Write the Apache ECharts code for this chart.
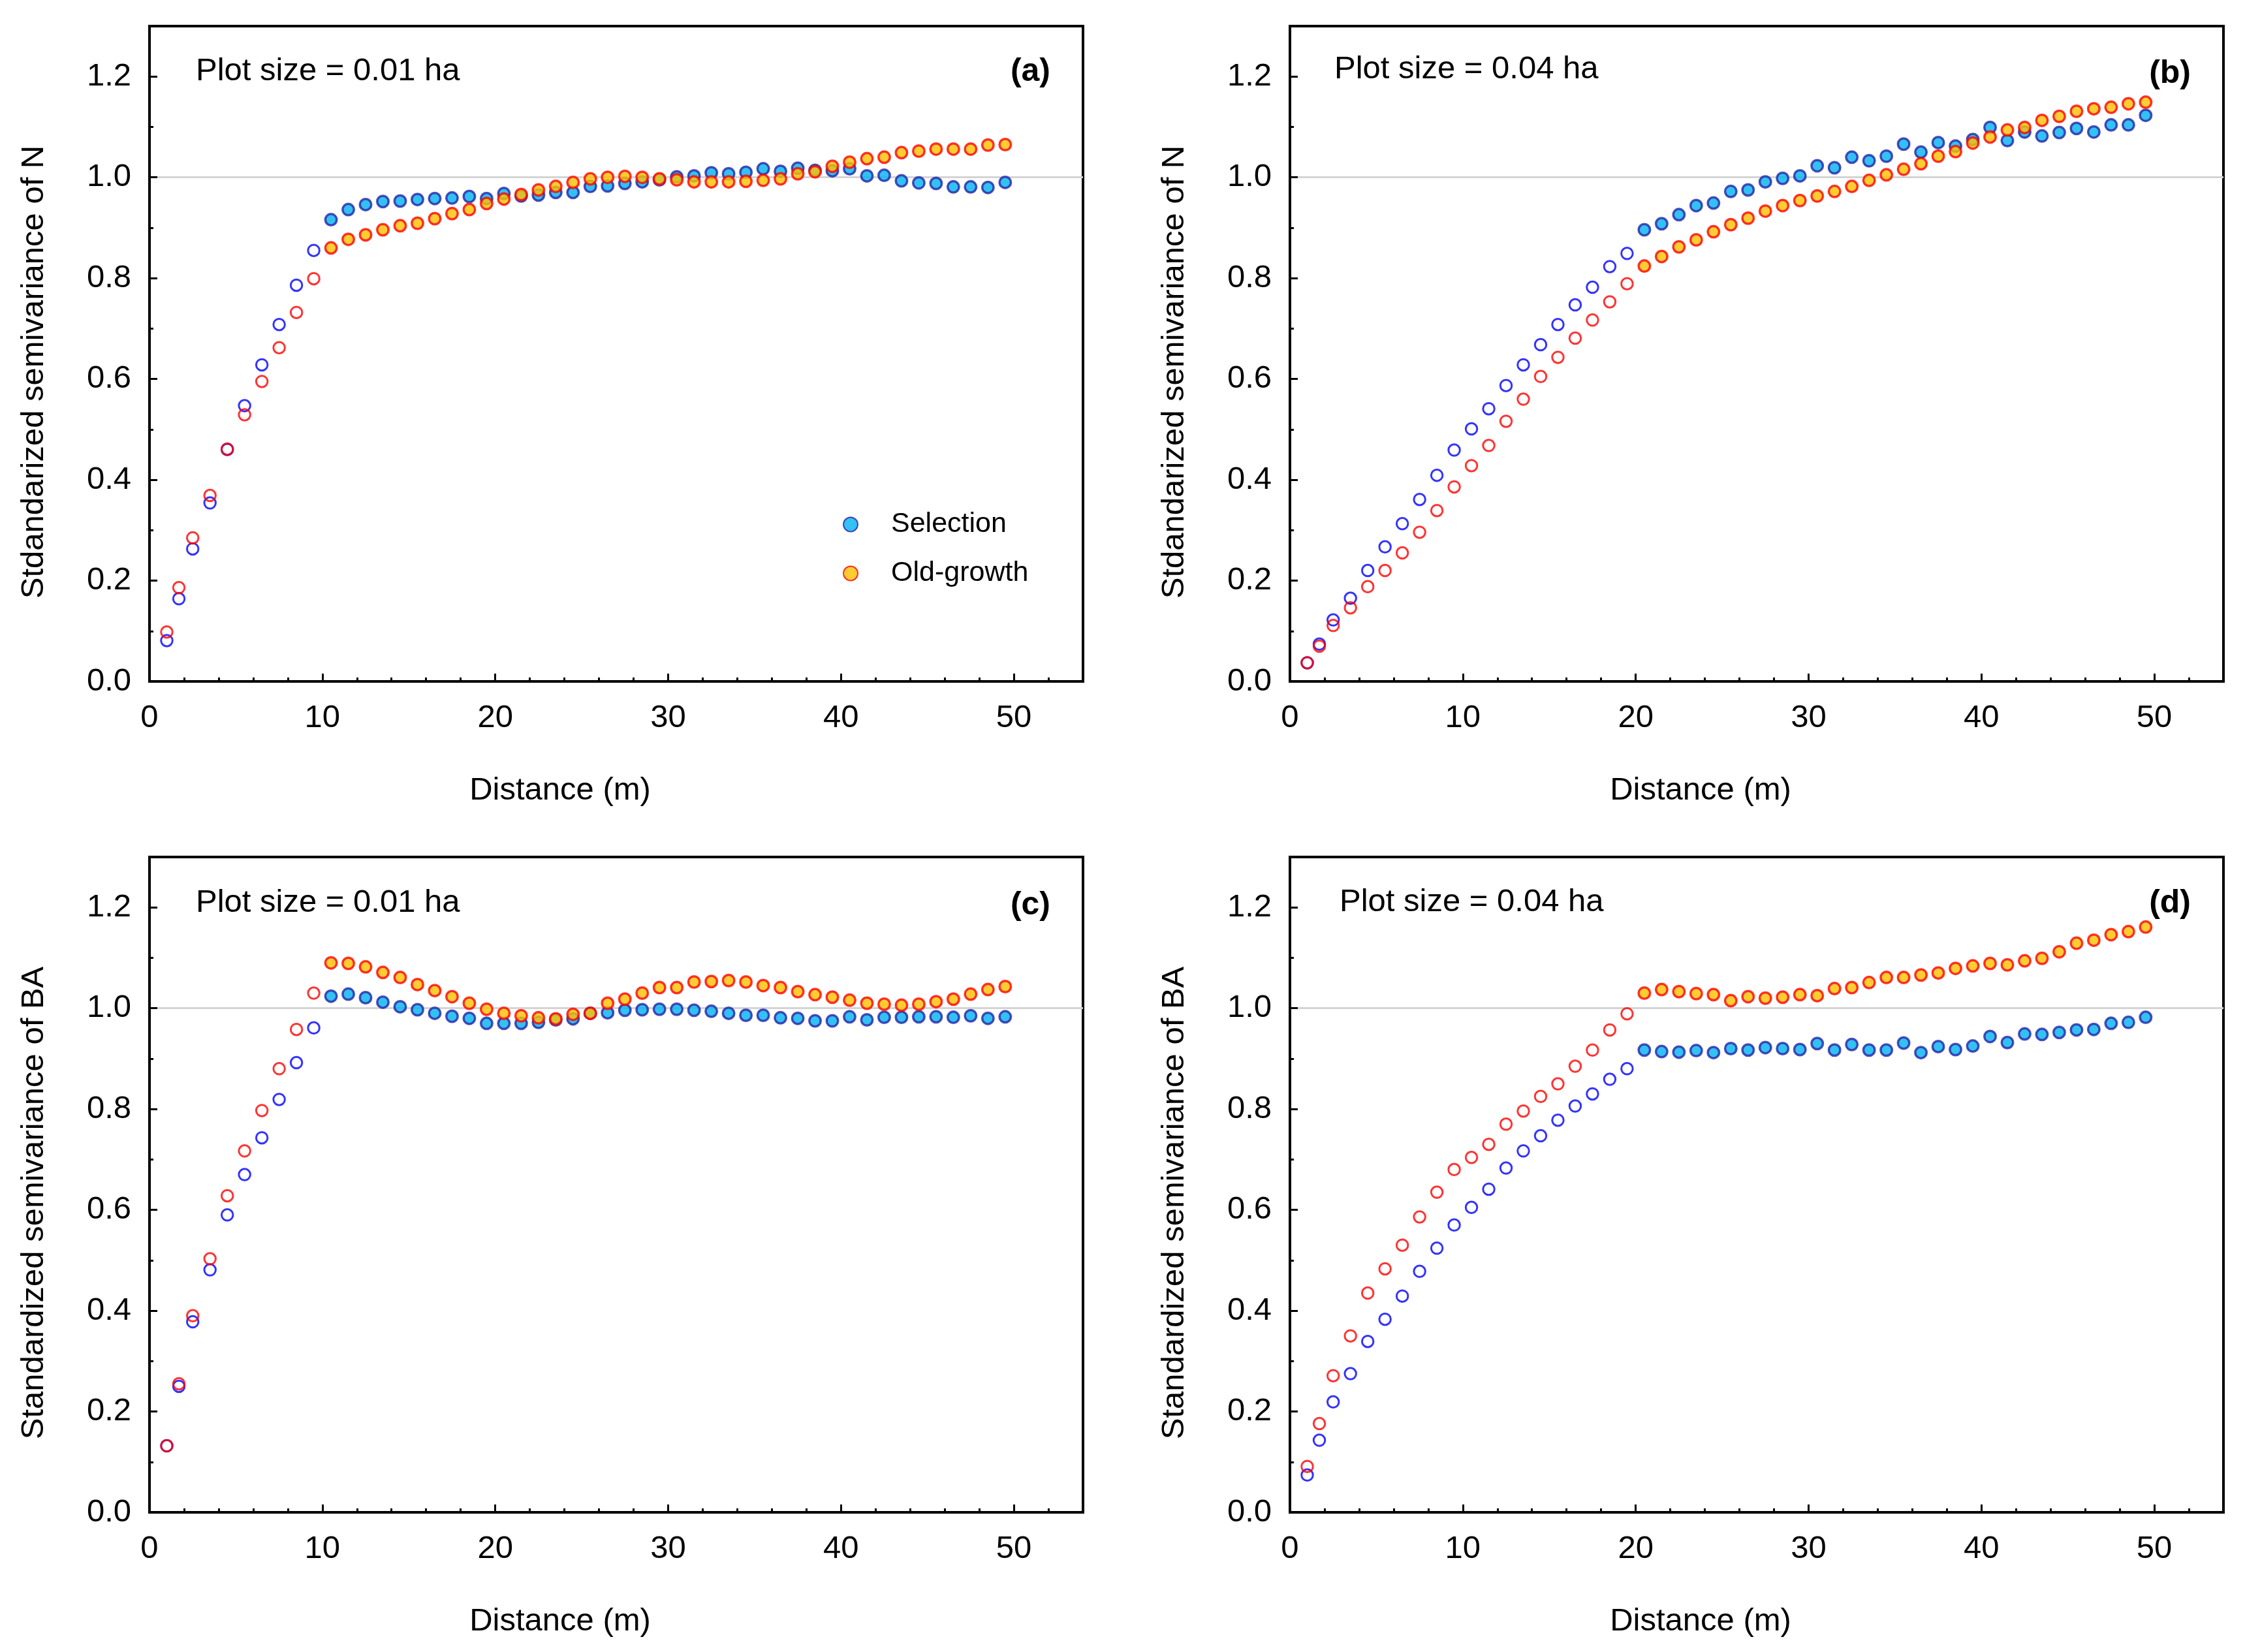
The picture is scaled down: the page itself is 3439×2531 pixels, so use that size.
<!DOCTYPE html>
<html><head><meta charset="utf-8">
<script src="https://cdn.jsdelivr.net/npm/echarts@6/dist/echarts.min.js"></script>
<style>html,body{margin:0;padding:0;background:#fff}#c{width:3439px;height:2531px}</style>
</head><body><div id="c"></div>
<script>
// ---------- data ----------
const distance = [1.0,1.7,2.5,3.5,4.5,5.5,6.5,7.5,8.5,9.5,10.5,11.5,12.5,13.5,14.5,15.5,16.5,17.5,18.5,19.5,20.5,21.5,22.5,23.5,24.5,25.5,26.5,27.5,28.5,29.5,30.5,31.5,32.5,33.5,34.5,35.5,36.5,37.5,38.5,39.5,40.5,41.5,42.5,43.5,44.5,45.5,46.5,47.5,48.5,49.5];
const xTickLabels = [0,10,20,30,40,50];
const yTickLabels = ['0.0','0.2','0.4','0.6','0.8','1.0','1.2'];
const seriesNames = ['Selection','Old-growth'];

const selN01 = [0.081,0.164,0.263,0.354,0.460,0.547,0.628,0.708,0.786,0.855,0.916,0.936,0.946,0.952,0.953,0.956,0.958,0.959,0.962,0.958,0.968,0.963,0.965,0.970,0.970,0.982,0.983,0.988,0.991,0.995,1.001,1.003,1.009,1.007,1.010,1.017,1.012,1.018,1.014,1.013,1.017,1.003,1.004,0.993,0.989,0.988,0.981,0.981,0.980,0.990];
const oldN01 = [0.098,0.186,0.285,0.369,0.461,0.529,0.595,0.662,0.732,0.799,0.860,0.877,0.886,0.896,0.904,0.909,0.918,0.928,0.936,0.948,0.957,0.966,0.975,0.982,0.990,0.997,1.000,1.002,1.000,0.997,0.995,0.991,0.991,0.991,0.992,0.994,0.997,1.007,1.011,1.022,1.030,1.037,1.040,1.049,1.052,1.056,1.056,1.056,1.064,1.065];
const selN04 = [0.037,0.074,0.122,0.165,0.220,0.267,0.313,0.361,0.409,0.459,0.501,0.541,0.587,0.628,0.668,0.708,0.747,0.782,0.823,0.849,0.896,0.908,0.926,0.944,0.949,0.972,0.975,0.991,0.998,1.003,1.023,1.019,1.040,1.033,1.042,1.066,1.050,1.069,1.062,1.075,1.099,1.073,1.090,1.082,1.089,1.097,1.090,1.104,1.104,1.123];
const oldN04 = [0.037,0.070,0.111,0.146,0.188,0.220,0.255,0.296,0.339,0.386,0.428,0.468,0.516,0.560,0.605,0.643,0.681,0.717,0.753,0.789,0.824,0.843,0.862,0.876,0.892,0.906,0.919,0.933,0.944,0.954,0.963,0.972,0.982,0.994,1.005,1.016,1.027,1.042,1.051,1.068,1.080,1.094,1.099,1.113,1.121,1.131,1.136,1.139,1.146,1.149];
const selBA01 = [0.132,0.250,0.378,0.481,0.590,0.670,0.743,0.819,0.892,0.961,1.024,1.028,1.021,1.012,1.003,0.997,0.990,0.984,0.980,0.970,0.970,0.970,0.972,0.977,0.979,0.990,0.991,0.996,0.997,0.998,0.998,0.996,0.994,0.990,0.986,0.986,0.981,0.980,0.975,0.975,0.983,0.977,0.982,0.982,0.983,0.983,0.982,0.985,0.980,0.983];
const oldBA01 = [0.132,0.255,0.390,0.503,0.628,0.717,0.797,0.880,0.958,1.030,1.090,1.089,1.082,1.071,1.061,1.047,1.035,1.023,1.010,0.998,0.990,0.985,0.981,0.979,0.988,0.990,1.010,1.018,1.030,1.041,1.041,1.052,1.053,1.055,1.052,1.045,1.041,1.033,1.027,1.022,1.016,1.010,1.008,1.006,1.008,1.013,1.018,1.028,1.037,1.043];
const selBA04 = [0.074,0.143,0.219,0.275,0.339,0.383,0.429,0.478,0.524,0.570,0.605,0.641,0.683,0.717,0.747,0.778,0.806,0.830,0.859,0.880,0.917,0.914,0.913,0.916,0.912,0.920,0.917,0.922,0.920,0.918,0.930,0.917,0.928,0.917,0.917,0.931,0.912,0.924,0.918,0.925,0.944,0.932,0.949,0.948,0.952,0.957,0.958,0.970,0.972,0.982];
const oldBA04 = [0.091,0.176,0.271,0.350,0.435,0.483,0.530,0.586,0.635,0.680,0.704,0.730,0.770,0.796,0.825,0.850,0.885,0.917,0.957,0.989,1.030,1.037,1.033,1.029,1.027,1.015,1.023,1.020,1.022,1.027,1.025,1.039,1.041,1.051,1.061,1.061,1.066,1.070,1.079,1.084,1.089,1.086,1.094,1.099,1.112,1.129,1.135,1.146,1.152,1.161];

// ---------- panels ----------
const panels = [
  {tag:'(a)', plot:'Plot size = 0.01 ha', side:10, sel:selN01, old:oldN01, yName:'Stdandarized semivariance of N'},
  {tag:'(b)', plot:'Plot size = 0.04 ha', side:20, sel:selN04, old:oldN04, yName:'Stdandarized semivariance of N'},
  {tag:'(c)', plot:'Plot size = 0.01 ha', side:10, sel:selBA01, old:oldBA01, yName:'Standardized semivariance of BA'},
  {tag:'(d)', plot:'Plot size = 0.04 ha', side:20, sel:selBA04, old:oldBA04, yName:'Standardized semivariance of BA'}
];
// layout (pixels)
const layout = [
  {left:229, top:40, plotDx:71, plotDy:69, tagDy:70},
  {left:1976, top:40, plotDx:68, plotDy:66, tagDy:73},
  {left:229, top:1313, plotDx:71, plotDy:70, tagDy:74},
  {left:1976, top:1313, plotDx:76, plotDy:69, tagDy:71}
];
const GW = 1430, GH = 1004;
const FONT = '"Liberation Sans", Arial, Helvetica, sans-serif';
const XMAX = 54, YMAX = 1.3;

const selFilled = {color:'#00B0F0', borderColor:'#2323A8', borderWidth:3.5};
const oldFilled = {color:'#FFC000', borderColor:'#FF0000', borderWidth:3.5};
const selHollow = {color:'rgba(0,0,0,0)', borderColor:'#0000FF', borderWidth:3};
const oldHollow = {color:'rgba(0,0,0,0)', borderColor:'#FF0000', borderWidth:3};

const grid = [], xAxis = [], yAxis = [], series = [], graphic = [];

panels.forEach((p, i) => {
  const L = layout[i];
  grid.push({left:L.left, top:L.top, width:GW, height:GH, show:true, borderColor:'#000', borderWidth:4, backgroundColor:'transparent', containLabel:false});
  // main x axis (minor ticks + labels)
  xAxis.push({type:'value', gridIndex:i, min:0, max:XMAX, interval:2,
    axisLine:{show:true, onZero:false, lineStyle:{color:'#000', width:4}},
    axisTick:{show:true, inside:true, length:6, lineStyle:{color:'#000', width:3}},
    axisLabel:{show:true, margin:32, color:'#000', fontSize:49, fontFamily:FONT,
      formatter: v => (xTickLabels.indexOf(Math.round(v)) >= 0 && Math.abs(v - Math.round(v)) < 1e-9) ? String(Math.round(v)) : ''},
    splitLine:{show:false}});
  // major x ticks
  xAxis.push({type:'value', gridIndex:i, min:0, max:XMAX, interval:10, position:'bottom',
    axisLine:{show:false}, axisLabel:{show:false}, splitLine:{show:false},
    axisTick:{show:true, inside:true, length:12, lineStyle:{color:'#000', width:3}}});
  // main y axis (minor ticks + labels)
  yAxis.push({type:'value', gridIndex:i, min:0, max:YMAX, interval:0.1,
    axisLine:{show:true, onZero:false, lineStyle:{color:'#000', width:4}},
    axisTick:{show:true, inside:true, length:6, lineStyle:{color:'#000', width:3}},
    axisLabel:{show:true, margin:28, color:'#000', fontSize:49, fontFamily:FONT,
      formatter: v => { const k = Math.round(v*10); const s = (k/10).toFixed(1); return (k % 2 === 0 && yTickLabels.indexOf(s) >= 0) ? s : ''; }},
    splitLine:{show:false}});
  // major y ticks
  yAxis.push({type:'value', gridIndex:i, min:0, max:YMAX, interval:0.2, position:'left',
    axisLine:{show:false}, axisLabel:{show:false}, splitLine:{show:false},
    axisTick:{show:true, inside:true, length:12, lineStyle:{color:'#000', width:3}}});
  // reference line at 1.0
  yAxis.push({type:'value', gridIndex:i, min:0, max:YMAX, interval:1, position:'left',
    axisLine:{show:false}, axisLabel:{show:false}, axisTick:{show:false},
    splitLine:{show:true, showMinLine:false, showMaxLine:false, lineStyle:{color:'#d4d4d4', width:3}}});

  const mk = (vals, hollow) => distance.map((d, j) => (
    d < p.side ? {value:[d, vals[j]], itemStyle:hollow} : {value:[d, vals[j]]}
  ));
  series.push({type:'scatter', name:seriesNames[0], xAxisIndex:2*i, yAxisIndex:3*i, z:3,
    symbol:'circle', symbolSize:17.5, itemStyle:selFilled, data:mk(p.sel, selHollow), emphasis:{disabled:true}});
  series.push({type:'scatter', name:seriesNames[1], xAxisIndex:2*i, yAxisIndex:3*i, z:4,
    symbol:'circle', symbolSize:17.5, itemStyle:oldFilled, data:mk(p.old, oldHollow), emphasis:{disabled:true}});

  const B = L.top + GH;
  graphic.push({type:'text', x:L.left + L.plotDx, y:L.top + L.plotDy,
    style:{text:p.plot, font:'49px ' + FONT, fill:'#000', textAlign:'left', textVerticalAlign:'middle'}});
  graphic.push({type:'text', x:L.left + GW - 50, y:L.top + L.tagDy,
    style:{text:p.tag, font:'bold 50px ' + FONT, fill:'#000', textAlign:'right', textVerticalAlign:'middle'}});
  graphic.push({type:'text', x:L.left + 629, y:B + 167,
    style:{text:'Distance (m)', font:'49px ' + FONT, fill:'#000', textAlign:'center', textVerticalAlign:'middle'}});
  graphic.push({type:'text', x:L.left - 177, y:L.top + 530, rotation:Math.PI/2,
    style:{text:p.yName, font:'49px ' + FONT, fill:'#000', textAlign:'center', textVerticalAlign:'middle'}});
});

const chart = echarts.init(document.getElementById('c'), null, {renderer:'canvas'});
chart.setOption({
  animation:false,
  backgroundColor:'#fff',
  grid, xAxis, yAxis, series, graphic,
  legend:{show:true, orient:'vertical', left:1291, top:782, padding:0, itemGap:32,
    itemWidth:22, itemHeight:22, icon:'circle', selectedMode:false,
    data:seriesNames,
    textStyle:{fontSize:43, fontFamily:FONT, color:'#000', padding:[0,0,0,46]}}
});
</script></body></html>
